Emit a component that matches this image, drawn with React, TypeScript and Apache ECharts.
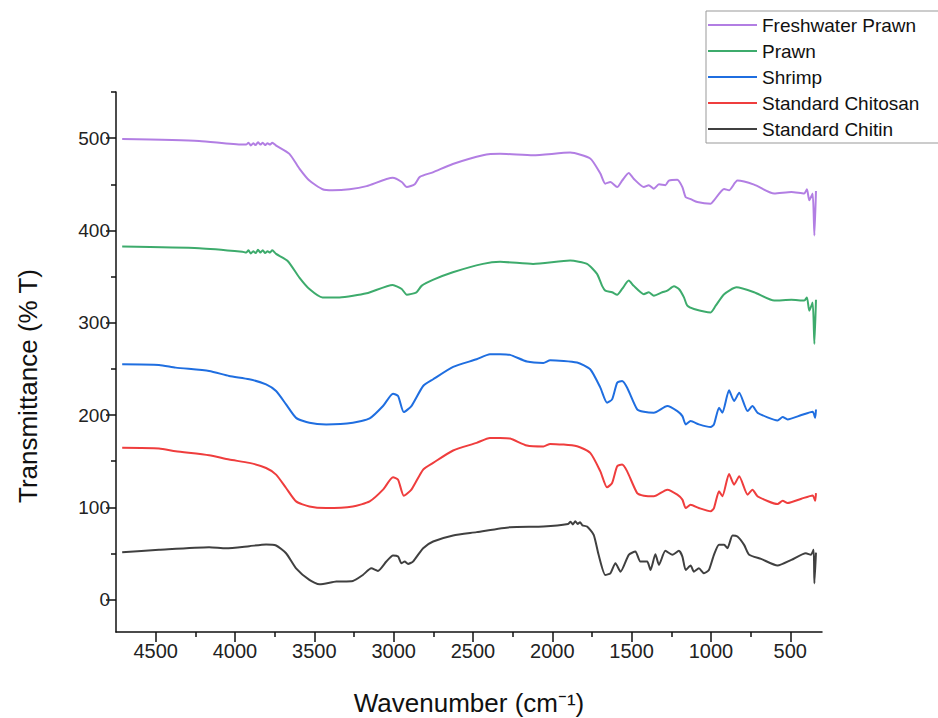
import React, { useEffect, useRef } from "react";
import * as echarts from "echarts";

// Wavenumber (cm^-1), transmittance (% T, offset) pairs
const FRESHWATER_PRAWN: [number, number][] = [
  [4711, 499], [4226, 497], [3954, 493], [3930, 493], [3915, 495], [3900, 492], [3885, 494.5],
  [3870, 492.5], [3855, 495.5], [3840, 493], [3825, 495], [3810, 492.5], [3795, 494.5], [3780, 493],
  [3765, 495], [3741, 492], [3657, 483], [3594, 467], [3531, 454], [3448, 444.6], [3385, 443.5],
  [3278, 444.6], [3170, 448], [3006, 457], [2949, 452.5], [2917, 447], [2867, 450], [2835, 458],
  [2753, 463], [2627, 472], [2437, 481.5], [2329, 483], [2121, 481.5], [1887, 484.4], [1761, 478],
  [1697, 461.6], [1666, 450.7], [1634, 452.5], [1591, 447], [1560, 454], [1518, 462.3], [1487, 456],
  [1423, 447], [1392, 449], [1360, 445.3], [1328, 450], [1287, 449], [1265, 454], [1212, 455],
  [1180, 447], [1159, 436], [1128, 434], [1086, 430.8], [1002, 429], [981, 432.6], [917, 445],
  [886, 443.5], [833, 454], [728, 449.6], [601, 440], [493, 441.7], [412, 440], [395, 444.6],
  [380, 432.6], [359, 440], [348, 394.6], [338, 442.7],
];

const PRAWN: [number, number][] = [
  [4711, 382.6], [4226, 380.8], [3954, 377], [3930, 376], [3915, 378.5], [3900, 375], [3885, 377.5],
  [3870, 375.5], [3855, 379], [3840, 376], [3825, 378.5], [3810, 375.5], [3795, 377.5], [3780, 376],
  [3765, 378.5], [3741, 374.6], [3668, 367], [3594, 349], [3531, 336.6], [3448, 327.5], [3341, 327.5],
  [3170, 331.9], [3006, 341], [2949, 336.6], [2917, 330.4], [2856, 333], [2824, 340], [2753, 346.4],
  [2627, 354.7], [2437, 363.8], [2329, 366], [2121, 363.8], [1887, 367.4], [1781, 363.8],
  [1718, 352.9], [1686, 340], [1666, 334.8], [1623, 333], [1591, 330.4], [1560, 336.6],
  [1518, 345.7], [1487, 340], [1423, 331], [1392, 333], [1360, 329.3], [1307, 333], [1275, 334.8],
  [1233, 339.5], [1202, 336.6], [1170, 327.5], [1149, 318.5], [1107, 314.9], [1002, 311.2],
  [970, 318.5], [917, 331], [839, 338.4], [728, 333], [601, 324], [493, 325], [412, 324],
  [395, 327.5], [380, 313], [359, 322], [348, 277], [338, 325],
];

const SHRIMP: [number, number][] = [
  [4711, 255], [4479, 254.3], [4374, 251.4], [4163, 247.8], [4037, 242.4], [3910, 238.8],
  [3804, 233.3], [3741, 226], [3678, 211.6], [3615, 197], [3531, 191.6], [3425, 189.9],
  [3257, 191.6], [3151, 196.4], [3067, 209.8], [3004, 223.2], [2972, 220.7], [2936, 203.3],
  [2888, 209.8], [2814, 231.5], [2751, 238.8], [2625, 252.2], [2477, 260.5], [2393, 266],
  [2329, 266], [2266, 265.2], [2160, 258], [2056, 256.5], [2013, 259.4], [1844, 257],
  [1761, 249.6], [1697, 229.7], [1655, 213.4], [1623, 217], [1591, 235], [1560, 237],
  [1528, 229.7], [1465, 206.2], [1423, 203.6], [1360, 202.5], [1275, 209.8], [1212, 204.3],
  [1180, 198.9], [1159, 189.9], [1128, 193.5], [1076, 189.9], [1002, 187], [981, 189.9],
  [949, 208], [928, 202.5], [886, 226.8], [854, 215.2], [822, 224.2], [769, 204.3], [738, 209.8],
  [706, 202.5], [580, 194.2], [548, 197.8], [517, 195.3], [430, 200], [359, 203.6], [343, 197],
  [338, 206],
];

const STANDARD_CHITOSAN: [number, number][] = [
  [4711, 164.5], [4479, 163.8], [4374, 160.9], [4163, 156.5], [4037, 151.8], [3910, 148.2],
  [3804, 142.7], [3741, 135.5], [3678, 121], [3615, 106.5], [3531, 101], [3425, 99.3],
  [3257, 101], [3151, 106.5], [3067, 119.2], [3004, 132.6], [2972, 130], [2936, 112.7],
  [2888, 119.2], [2814, 141], [2751, 148.2], [2625, 161.6], [2477, 169.9], [2393, 175.3],
  [2329, 175.3], [2266, 174.6], [2160, 167], [2056, 166], [2013, 168.8], [1844, 166.3],
  [1761, 159], [1697, 139], [1655, 121.7], [1623, 126.4], [1591, 144.6], [1560, 146.4],
  [1528, 139], [1465, 115.5], [1423, 112.7], [1360, 112], [1275, 119.2], [1212, 113.8],
  [1180, 108.4], [1159, 99.3], [1128, 102.9], [1076, 99.3], [1002, 95.7], [981, 99.3],
  [949, 117.4], [928, 112], [886, 136.2], [854, 124.6], [822, 133.7], [769, 113.8], [738, 119.2],
  [706, 112], [580, 103.6], [548, 107.2], [517, 104.7], [430, 109.4], [359, 113], [343, 107.2],
  [338, 115.5],
];

const STANDARD_CHITIN: [number, number][] = [
  [4711, 51.4], [4479, 54], [4163, 56.9], [4057, 55.8], [3910, 58], [3804, 59.8], [3741, 58.7],
  [3678, 50.3], [3615, 34], [3531, 21.4], [3467, 16.6], [3362, 19.6], [3257, 20.3], [3194, 26.8],
  [3141, 34], [3099, 31.2], [3046, 41.3], [3004, 47.8], [2972, 46.7], [2951, 39.5], [2930, 41.3],
  [2909, 38.8], [2878, 41.3], [2814, 55.8], [2751, 63], [2625, 69.6], [2477, 73.2], [2266, 78.6],
  [2056, 79.3], [1900, 82], [1885, 84.5], [1870, 81.5], [1855, 85], [1840, 82], [1825, 84],
  [1810, 80.5], [1781, 79.3], [1739, 70.3], [1708, 48.6], [1666, 26.8], [1634, 28.6], [1602, 39.5],
  [1570, 30.4], [1518, 48.6], [1476, 52.2], [1445, 41.3], [1402, 41.3], [1381, 32.2], [1350, 49.3],
  [1328, 37.7], [1287, 52.9], [1244, 48.6], [1202, 52.9], [1180, 46.7], [1159, 32.2], [1128, 37],
  [1107, 30.4], [1076, 34], [1044, 28.6], [1013, 32.2], [981, 48.6], [949, 59.4], [917, 59.4],
  [896, 55.8], [864, 69.6], [833, 68.5], [791, 59.4], [759, 48.6], [684, 44.2], [580, 37],
  [493, 43.1], [402, 50.3], [370, 48.6], [353, 54], [348, 17.7], [338, 51],
];

const SERIES_NAMES = ["Freshwater Prawn", "Prawn", "Shrimp", "Standard Chitosan", "Standard Chitin"];
const SERIES_DATA = [FRESHWATER_PRAWN, PRAWN, SHRIMP, STANDARD_CHITOSAN, STANDARD_CHITIN];
const SERIES_COLORS = ["#B27EE3", "#3DAB6C", "#1F6EE0", "#EF3D3D", "#404040"];

const X_MAJOR = [500, 1000, 1500, 2000, 2500, 3000, 3500, 4000, 4500];
const X_MINOR = [750, 1250, 1750, 2250, 2750, 3250, 3750, 4250];
const Y_MAJOR = [0, 100, 200, 300, 400, 500];
const Y_MINOR = [50, 150, 250, 350, 450, 550];

const FONT = "'Liberation Sans', Arial, sans-serif";
const AXIS_COLOR = "#111";

export default function App() {
  const ref = useRef<HTMLDivElement>(null);

  useEffect(() => {
    document.body.style.margin = "0";
    const chart = echarts.init(ref.current!, null, { renderer: "svg" });

    const xBase = {
      type: "value",
      min: 300,
      max: 4750,
      inverse: true,
      position: "bottom",
      splitLine: { show: false },
    };
    const yBase = {
      type: "value",
      min: -35,
      max: 550,
      position: "left",
      splitLine: { show: false },
    };

    chart.setOption({
      animation: false,
      backgroundColor: "#fff",
      grid: { left: 116, right: 116, top: 92, bottom: 86, outerBoundsMode: "none" },
      xAxis: [
        {
          ...xBase,
          axisLine: { show: true, onZero: false, lineStyle: { color: AXIS_COLOR, width: 1.5 } },
          axisTick: { show: true, inside: false, length: 10, customValues: X_MAJOR, lineStyle: { color: AXIS_COLOR, width: 1.5 } },
          axisLabel: {
            customValues: X_MAJOR,
            formatter: (v: number) => String(v),
            fontSize: 20,
            color: "#222",
            margin: 9,
            fontFamily: FONT,
          },
        },
        {
          ...xBase,
          axisLine: { show: false, onZero: false },
          axisTick: { show: true, inside: false, length: 5, customValues: X_MINOR, lineStyle: { color: AXIS_COLOR, width: 1.5 } },
          axisLabel: { show: false },
        },
      ],
      yAxis: [
        {
          ...yBase,
          axisLine: { show: true, onZero: false, lineStyle: { color: AXIS_COLOR, width: 1.5 } },
          axisTick: { show: true, inside: false, length: 10, customValues: Y_MAJOR, lineStyle: { color: AXIS_COLOR, width: 1.5 } },
          axisLabel: {
            customValues: Y_MAJOR,
            formatter: (v: number) => String(v),
            fontSize: 19,
            color: "#222",
            margin: 6,
            fontFamily: FONT,
          },
        },
        {
          ...yBase,
          axisLine: { show: false, onZero: false },
          axisTick: { show: true, inside: false, length: 5, customValues: Y_MINOR, lineStyle: { color: AXIS_COLOR, width: 1.5 } },
          axisLabel: { show: false },
        },
      ],
      legend: {
        orient: "vertical",
        left: 706,
        top: 11,
        align: "left",
        icon: "rect",
        itemWidth: 49,
        itemHeight: 2,
        itemGap: 6,
        padding: [4, 40, 4, 2],
        borderColor: "#999",
        borderWidth: 1,
        backgroundColor: "#fff",
        textStyle: { fontSize: 19, lineHeight: 20, color: "#111", fontFamily: FONT },
        data: SERIES_NAMES,
      },
      graphic: [
        {
          type: "text",
          x: 28,
          y: 386,
          rotation: Math.PI / 2,
          style: {
            text: "Transmittance (% T)",
            fontSize: 26,
            fontFamily: FONT,
            fill: "#111",
            align: "center",
            verticalAlign: "middle",
          },
        },
        {
          type: "text",
          x: 469,
          y: 703,
          style: {
            text: "Wavenumber (cm\u207B\u00B9)",
            fontSize: 26,
            fontFamily: FONT,
            fill: "#111",
            align: "center",
            verticalAlign: "middle",
          },
        },
      ],
      series: SERIES_NAMES.map((name, i) => ({
        name,
        type: "line",
        xAxisIndex: 0,
        yAxisIndex: 0,
        data: SERIES_DATA[i],
        symbol: "none",
        showSymbol: false,
        smooth: 0.2,
        lineStyle: { color: SERIES_COLORS[i], width: 2 },
        itemStyle: { color: SERIES_COLORS[i] },
      })),
    });

    return () => chart.dispose();
  }, []);

  return <div ref={ref} style={{ width: 938, height: 718 }} />;
}
